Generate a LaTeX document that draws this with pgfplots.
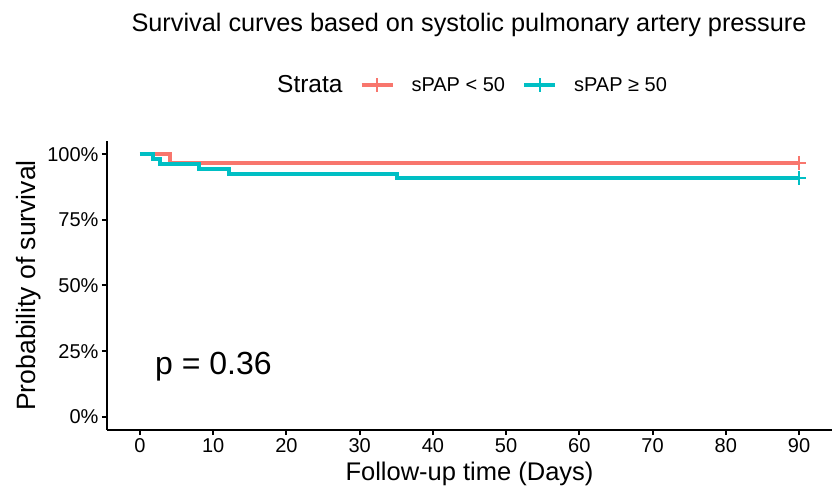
\documentclass[border=0pt]{standalone}
\usepackage{fontspec}
\setmainfont{Liberation Sans}
\usepackage{pgfplots}
\pgfplotsset{compat=1.18}
\definecolor{cred}{HTML}{F8766D}
\definecolor{cteal}{HTML}{00BFC4}
\begin{document}
\begin{tikzpicture}
\path[use as bounding box] (0,0) rectangle (837bp,492bp);
\node[font=\fontsize{25.3bp}{30bp}\selectfont, inner sep=0pt] at (469bp,467bp) {Survival curves based on systolic pulmonary artery pressure};
\begin{axis}[
  at={(107bp,62bp)}, anchor=south west,
  scale only axis, width=725bp, height=289bp,
  xmin=-4.5, xmax=94.5, ymin=-0.05, ymax=1.05,
  axis x line*=bottom, axis y line*=left,
  axis line style={line width=2bp, black, -},
  xtick={0,10,...,90},
  ytick={0,0.25,0.5,0.75,1},
  yticklabels={0\%,25\%,50\%,75\%,100\%},
  tick align=outside, major tick length=5bp,
  tick style={line width=2bp, black},
  /pgf/number format/assume math mode=true,
  ticklabel style={font=\fontsize{20bp}{23bp}\selectfont},
  xlabel={Follow-up time (Days)},
  ylabel={Probability of survival},
  label style={font=\fontsize{25.5bp}{30bp}\selectfont},
  xlabel style={yshift=-3bp},
  ylabel style={font=\fontsize{26.5bp}{30bp}\selectfont, yshift=-1bp},
  legend columns=3,
  legend cell align=left,
  legend style={at={(0.211,1.194)}, anchor=west, draw=none, fill=none, inner sep=0pt,
    font=\fontsize{20bp}{24bp}\selectfont, column sep=17bp, nodes={inner sep=0pt}},
  clip=false,
]
\addlegendimage{empty legend}
\addlegendentry{\fontsize{24.5bp}{28bp}\selectfont Strata}
\addplot[cred, line width=4bp, const plot,
  legend image code/.code={\draw[cred, line width=4bp] (0bp,0bp) -- (31bp,0bp); \draw[cred, line width=2bp] (15.5bp,-7bp) -- (15.5bp,7bp);}]
  coordinates {(0,1) (4.1,0.9667) (90,0.9667)};
\addlegendentry{sPAP < 50}
\addplot[cteal, line width=4bp, const plot,
  legend image code/.code={\draw[cteal, line width=4bp] (0bp,0bp) -- (31bp,0bp); \draw[cteal, line width=2bp] (15.5bp,-7bp) -- (15.5bp,7bp);}]
  coordinates {(0,1) (1.8,0.9815) (2.8,0.9630) (8.0,0.9444) (12.1,0.9259) (35.1,0.9074) (90,0.9074)};
\addlegendentry{sPAP ≥ 50}
\addplot[cred, only marks, mark=+, mark size=7bp, mark options={line width=2bp}, forget plot]
  coordinates {(90,0.9667)};
\addplot[cteal, only marks, mark=+, mark size=7bp, mark options={line width=2bp}, forget plot]
  coordinates {(90,0.9074)};
\node[anchor=west, inner sep=0pt, font=\fontsize{32bp}{36bp}\selectfont] at (axis cs:2.05,0.19) {p = 0.36};
\end{axis}
\end{tikzpicture}
\end{document}
